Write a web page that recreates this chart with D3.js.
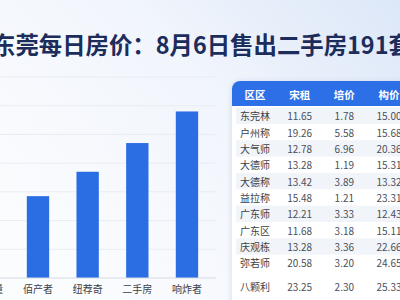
<!DOCTYPE html>
<html>
<head>
<meta charset="utf-8">
<script src="https://cdn.jsdelivr.net/npm/d3@7"></script>
<style>
body{margin:0;padding:0;overflow:hidden;background:#fff}
svg{display:block}
</style>
</head>
<body>
<svg id="svg" width="400" height="300"></svg>
<script>
var title = "东莞每日房价：8月6日售出二手房191套";

// bar chart
var categories = ["成交量", "佰产者", "纽荐奇", "二手房", "响炸者"];
var values = [40, 57, 74, 94, 116];
var yTicks = [0, 20, 40, 60, 80, 100, 120, 140];

// table
var headers = ["区区", "宋租", "培价", "构价"];
var districts = ["东完林", "户州称", "大气师", "大德师", "大德称", "益拉称", "广东师", "广东区", "庆观栋", "弥若师", "八颗利"];
var rent = ["11.65", "19.26", "12.78", "13.28", "13.42", "15.48", "12.21", "11.68", "13.28", "20.58", "23.25"];
var base = ["1.78", "5.58", "6.96", "1.19", "3.89", "1.21", "3.33", "3.18", "3.36", "3.20", "2.30"];
var price = ["15.00", "15.68", "20.36", "15.31", "13.32", "23.31", "12.43", "15.11", "22.66", "24.65", "25.33"];

var svg = d3.select("#svg");
var font = "'Noto Sans CJK SC', 'Noto Sans', sans-serif";

var defs = svg.append("defs");
var bg = defs.append("linearGradient").attr("id", "bg")
 .attr("x1", 0).attr("y1", 0.7).attr("x2", 1).attr("y2", 0);
bg.append("stop").attr("offset", 0).attr("stop-color", "#fbfcfe");
bg.append("stop").attr("offset", 0.55).attr("stop-color", "#f1f5fc");
bg.append("stop").attr("offset", 1).attr("stop-color", "#dce7f8");

var shadow = defs.append("filter").attr("id", "shadow")
 .attr("x", -0.2).attr("y", -0.2).attr("width", 1.4).attr("height", 1.4);
shadow.append("feDropShadow").attr("dx", 0).attr("dy", 1).attr("stdDeviation", 3)
 .attr("flood-color", "#8ea3c4").attr("flood-opacity", 0.35);

svg.append("rect").attr("width", 400).attr("height", 300).attr("fill", "url(#bg)");

// title
svg.append("text")
 .attr("x", -8)
 .attr("y", 54)
 .style("font-family", font)
 .style("font-size", "23.4px")
 .style("font-weight", 700)
 .style("fill", "#1c2c5b")
 .text(title);

// bars
var x = d3.scaleBand()
 .domain(categories)
 .range([-36.5, 211.8])
 .paddingInner(0.55)
 .paddingOuter(0.275);

var y = d3.scaleLinear()
 .domain([0, 140])
 .range([278, 77]);

svg.append("g")
 .selectAll("line")
 .data(yTicks.slice(1))
 .enter().append("line")
 .attr("x1", 0)
 .attr("x2", 216)
 .attr("y1", function(d){ return y(d); })
 .attr("y2", function(d){ return y(d); })
 .style("stroke", "#e9edf3")
 .style("stroke-width", 1);

svg.append("g")
 .selectAll("rect")
 .data(values)
 .enter().append("rect")
 .attr("x", function(d, i){ return x(categories[i]); })
 .attr("y", function(d){ return y(d); })
 .attr("width", x.bandwidth())
 .attr("height", function(d){ return y(0) - y(d); })
 .style("fill", "#2b6ee3");

var xAxis = svg.append("g")
 .attr("transform", "translate(0," + y(0) + ")")
 .call(d3.axisBottom(x).tickSize(0).tickPadding(8));
xAxis.select(".domain").attr("d", "M0,0H216").style("stroke", "#d5dbe4");
xAxis.selectAll("text")
 .style("font-family", font)
 .style("font-size", "10px")
 .style("fill", "#3a3f4a");

// table card
var col = d3.scalePoint()
 .domain(headers)
 .range([255, 389]);

var row = d3.scaleLinear()
 .domain([0, 9])
 .range([115.7, 262.8]);
var rowH = row(1) - row(0);
function rowY(i){ return i < 10 ? row(i) : row(9) + 24; }

svg.append("rect")
 .attr("x", 232).attr("y", 81)
 .attr("width", 200).attr("height", 240)
 .attr("rx", 8)
 .style("fill", "#ffffff")
 .attr("filter", "url(#shadow)");

svg.append("g")
 .selectAll("rect")
 .data(districts.slice(0, 10))
 .enter().append("rect")
 .filter(function(d, i){ return i % 2 == 0; })
 .attr("x", 236)
 .attr("y", function(d){ return rowY(districts.indexOf(d)) - rowH / 2; })
 .attr("width", 170)
 .attr("height", rowH)
 .style("fill", "#f1f4f9");

svg.append("rect")
 .attr("x", 232).attr("y", 81)
 .attr("width", 200).attr("height", 25)
 .attr("rx", 8)
 .style("fill", "#2c6fe6");
svg.append("rect")
 .attr("x", 232).attr("y", 95)
 .attr("width", 200).attr("height", 11)
 .style("fill", "#2c6fe6");

svg.append("g")
 .selectAll("text")
 .data(headers)
 .enter().append("text")
 .attr("x", function(d){ return col(d); })
 .attr("y", 94)
 .attr("text-anchor", "middle")
 .attr("dominant-baseline", "central")
 .style("font-family", font)
 .style("font-size", "10.5px")
 .style("font-weight", 700)
 .style("fill", "#ffffff")
 .text(function(d){ return d; });

var columns = [districts, rent, base, price];
columns.forEach(function(list, c){
 svg.append("g")
 .selectAll("text")
 .data(list)
 .enter().append("text")
 .attr("x", col(headers[c]))
 .attr("y", function(d, i){ return rowY(i); })
 .attr("text-anchor", "middle")
 .attr("dominant-baseline", "central")
 .style("font-family", font)
 .style("font-size", "10px")
 .style("fill", c == 0 ? "#3a3f4a" : "#4a4f5a")
 .text(function(d){ return d; });
});
</script>
</body>
</html>
